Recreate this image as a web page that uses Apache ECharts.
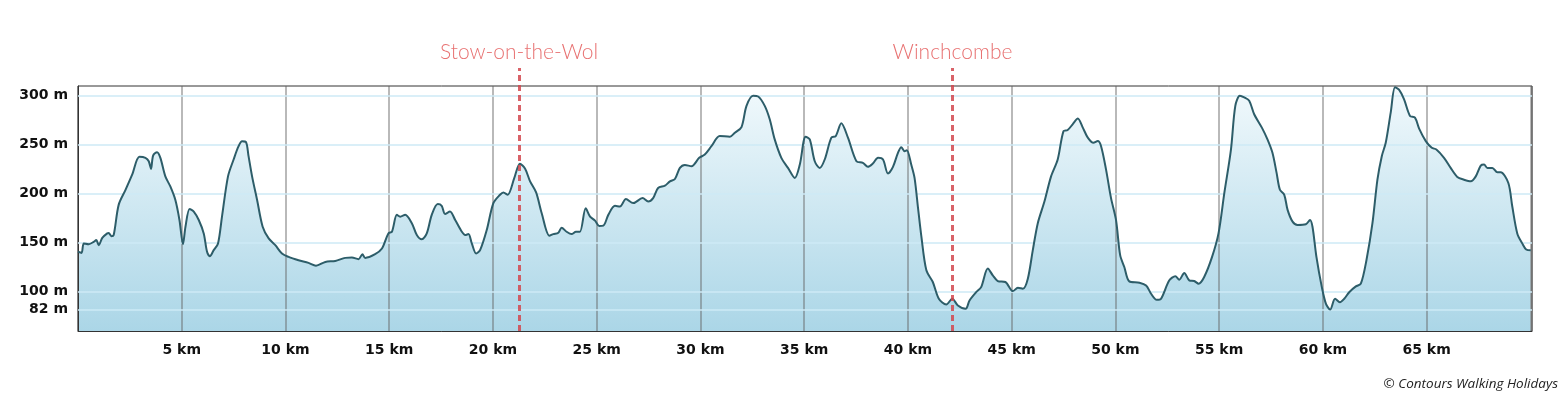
<!DOCTYPE html>
<html>
<head>
<meta charset="utf-8">
<script src="https://cdn.jsdelivr.net/npm/echarts@6/dist/echarts.min.js"></script>
<style>
html,body{margin:0;padding:0;background:#fff;}
#chart{width:1564px;height:403px;}
</style>
</head>
<body>
<div id="chart"></div>
<script>
const distanceKm = [0,0.17,0.28,0.52,0.76,0.88,1.00,1.17,1.41,1.48,1.61,1.72,1.96,2.29,2.61,2.96,3.25,3.41,3.52,3.62,3.81,3.97,4.21,4.45,4.69,4.89,5.06,5.18,5.38,5.58,5.82,6.06,6.22,6.35,6.54,6.75,6.94,7.23,7.50,7.74,7.91,8.10,8.22,8.39,8.63,8.90,9.19,9.51,9.83,10.15,10.63,11.11,11.47,11.92,12.40,12.88,13.20,13.52,13.71,13.84,14.32,14.65,14.96,15.13,15.37,15.53,15.77,16.09,16.33,16.57,16.81,17.05,17.34,17.53,17.69,17.93,18.18,18.50,18.66,18.82,18.98,19.19,19.38,19.70,20.02,20.34,20.50,20.71,21.03,21.30,21.55,21.79,22.08,22.35,22.72,22.91,23.15,23.31,23.55,23.79,24.00,24.19,24.47,24.68,24.92,25.12,25.32,25.56,25.88,26.12,26.41,26.76,27.21,27.48,27.72,27.96,28.29,28.53,28.77,29.01,29.25,29.57,29.94,30.21,30.53,30.93,31.42,31.66,31.98,32.22,32.54,32.78,33.10,33.34,33.58,33.90,34.22,34.55,34.79,35.07,35.27,35.51,35.75,35.99,36.31,36.52,36.79,37.11,37.52,37.83,38.07,38.31,38.56,38.80,39.04,39.28,39.52,39.68,39.84,39.95,40.16,40.32,40.48,40.65,40.89,41.20,41.49,41.85,42.14,42.41,42.78,42.97,43.29,43.53,43.85,44.09,44.33,44.70,45.06,45.30,45.54,45.78,46.02,46.26,46.58,46.90,47.22,47.50,47.70,47.94,48.19,48.43,48.67,48.94,49.15,49.31,49.55,49.79,50.03,50.23,50.43,50.67,51.16,51.48,51.72,51.99,52.20,52.60,52.89,53.08,53.32,53.56,53.80,54.01,54.28,54.66,54.97,55.25,55.57,55.78,56.00,56.21,56.45,56.69,57.06,57.33,57.57,57.77,57.93,58.14,58.30,58.54,58.78,59.18,59.38,59.50,59.69,59.95,60.15,60.35,60.59,60.82,61.03,61.27,61.59,61.83,62.10,62.39,62.63,62.84,63.03,63.27,63.48,63.67,63.91,64.20,64.44,64.64,64.96,65.25,65.47,65.84,66.16,66.48,66.80,67.13,67.37,67.61,67.77,67.93,68.17,68.41,68.57,68.94,69.13,69.37,69.61,69.80,70.02];
const elevationM = [140.8,139.7,149.4,148.6,151,152.8,147.6,155,159.6,160,156.8,157.9,188.7,204,219.5,237.7,236.7,233.2,225.4,239,242.5,236.7,217.8,207.5,193.9,173.3,148.6,166.4,184.6,181.9,173.3,159.6,140.8,136.3,142.5,149.4,176.7,217.8,235,248.6,253.5,252.7,238.4,217.8,193.9,166.4,154.5,147.6,139.1,135.6,132.2,129.5,126.7,130.5,131.5,134.6,135,133.3,138.4,134.6,138.4,144.2,159.6,161.3,178.5,176.7,178.5,170,157.9,153.5,159.6,178.5,189.5,187.7,179.5,181.9,173.3,161.3,157.9,158.9,149.4,139.1,142.5,163,190.5,199,201.4,199,216.2,230.7,225.5,212.7,201.4,180.2,157.2,158.9,160.3,165.4,161.3,158.9,161.3,161.3,185.3,176.7,172.6,167.2,167.5,178.5,187.7,187,194.6,190.5,195.6,192.1,195.6,205.9,208.3,212.7,215.1,226.4,229.5,228.1,236.7,240.1,248.6,258.9,258.3,262.4,268.1,289.7,300,299.3,289.7,276,255.5,236.7,226.4,216.2,229.8,258.3,255.5,233.2,226.4,235,257.3,258.9,272,257.3,233.2,231.6,227.5,230.9,236.7,235,220.6,227.5,241.8,247.6,243.5,244.5,229.8,216.2,187,156.2,121.9,110,92.9,87,92.9,86,82.6,91.1,99.6,104.8,123.7,116.8,111,110,100.7,104.1,103.1,113.4,142.5,170,192.1,217.8,235,264,265.1,270.9,276.8,267.5,257.3,252.1,253.8,248.6,224.7,195.6,173.3,137.4,125.3,110.6,109.3,106.5,98,91.8,92.9,111.7,115.8,112.4,119.2,111.7,111,108.3,115.1,135.6,159.6,200.7,245.2,289.7,300,298.3,294.9,281.2,267.5,255.5,241.8,221.3,204.1,199,183.6,171.6,168.2,168.9,173.3,166.4,135.6,104.8,87.7,81.9,92.9,89.4,92.9,99.6,105.5,108.3,132.2,170,214.4,238.4,252.1,282.9,308.6,306.2,296.6,279.5,277.8,266.5,253.8,247,245.2,236.7,226.4,217.2,214.4,212.7,217.8,228.8,229.8,226.4,226.4,221.9,221.9,211,187,159.6,149.4,143.2,142.5];
const yTickValues = [82, 100, 150, 200, 250, 300];
const xTickStep = 5;
const townNames = ['Stow-on-the-Wol', 'Winchcombe'];
const townKm = [21.26, 42.15];
const copyrightText = '\u00A9 Contours Walking Holidays';

const profile = distanceKm.map((d, i) => [d, elevationM[i]]);
const X_MAX = 70.08, Y_MIN = 60, Y_MAX = 310;
const axisFont = {fontFamily: 'DejaVu Sans', fontWeight: 'bold', fontSize: 14, color: '#111'};

const chart = echarts.init(document.getElementById('chart'), null, {renderer: 'canvas'});
chart.setOption({
  animation: false,
  title: {
    text: copyrightText,
    right: 1, bottom: 7,
    textStyle: {fontFamily: 'Open Sans', fontStyle: 'italic', fontWeight: 'normal', fontSize: 13.5, color: '#222'}
  },
  grid: [
    {left: 78, right: 32, top: 86, bottom: 72, show: true, borderColor: '#333', borderWidth: 1, backgroundColor: 'transparent'},
    {left: 78, right: 32, top: 68, bottom: 72, show: false}
  ],
  xAxis: [{
    type: 'value', min: 0, max: X_MAX, interval: xTickStep, z: 2,
    axisLine: {show: true, onZero: false, lineStyle: {color: '#333', width: 1}},
    axisTick: {show: false},
    splitLine: {show: true, lineStyle: {color: 'rgba(100,100,100,0.45)', width: 2}},
    axisLabel: Object.assign({margin: 12,
      formatter: v => (v > 0 && v < 70 && Math.abs(v % xTickStep) < 1e-6) ? v + ' km' : ''}, axisFont)
  }, {
    type: 'value', gridIndex: 1, min: 0, max: X_MAX, show: false
  }],
  yAxis: [{
    type: 'value', min: Y_MIN, max: Y_MAX, interval: 2, z: 2,
    axisLine: {show: true, lineStyle: {color: '#333', width: 1}},
    axisTick: {show: false},
    splitLine: {show: false},
    axisLabel: Object.assign({margin: 10,
      formatter: v => yTickValues.indexOf(Math.round(v)) >= 0 && Math.abs(v - Math.round(v)) < 1e-6 ? Math.round(v) + ' m' : ''}, axisFont)
  }, {
    type: 'value', gridIndex: 1, min: 0, max: 1, show: false
  }],
  series: [
    {
      type: 'line', data: profile, smooth: 0.3, showSymbol: false, z: 1, silent: true,
      lineStyle: {width: 0},
      areaStyle: {
        opacity: 1,
        origin: 'start',
        color: new echarts.graphic.LinearGradient(0, 0, 0, 1, [
          {offset: 0, color: '#f1f9fc'},
          {offset: 1, color: '#abd6e7'}
        ])
      },
      markLine: {
        silent: true, symbol: 'none', z: 3,
        label: {show: false},
        lineStyle: {color: 'rgba(205,233,245,0.75)', width: 2, type: 'solid'},
        data: yTickValues.map(v => ({yAxis: v}))
      }
    },
    {
      type: 'line', data: profile, smooth: 0.3, showSymbol: false, z: 10, silent: true,
      lineStyle: {color: '#2d5d69', width: 2}
    },
    {
      type: 'scatter', xAxisIndex: 1, yAxisIndex: 1, z: 12, silent: true,
      symbolSize: 0, itemStyle: {opacity: 0},
      data: townKm.map(k => [k, 0]),
      markLine: {
        silent: true, symbol: 'none', z: 12,
        lineStyle: {color: 'rgba(210,70,78,0.85)', width: 3, type: [6, 4]},
        label: {
          show: true, position: 'end', distance: 5, formatter: p => p.name,
          color: '#e87272', fontFamily: 'Lato', fontWeight: 300, fontSize: 21
        },
        data: townNames.map((t, i) => ({name: t, xAxis: townKm[i]}))
      }
    }
  ]
});
</script>
</body>
</html>
